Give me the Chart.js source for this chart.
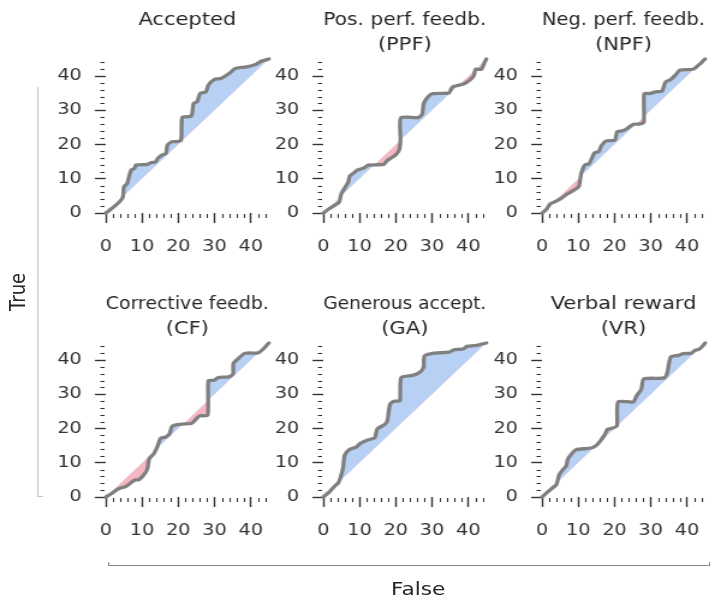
<!DOCTYPE html>
<html>
<head>
<meta charset="utf-8">
<script src="https://cdn.jsdelivr.net/npm/chart.js@4/dist/chart.umd.min.js"></script>
<style>
body { margin: 0; background: #fff; font-family: 'DejaVu Sans', sans-serif; color: #262626; overflow: hidden; }
/* the figure is drawn 600 wide and stretched to the 721 px window */
#wrap { position: relative; width: 600px; height: 600px; transform: scaleX(1.20167); transform-origin: 0 0; }
#wrap canvas { position: absolute; }
#yline { position: absolute; left: 31px; top: 87px; width: 1px; height: 410px; background: #c8c8c8; }
#ytick { position: absolute; left: 31px; top: 496px; width: 5px; height: 1px; background: #c8c8c8; }
#xline { position: absolute; left: 90px; top: 565px; width: 501px; height: 1px; background: #8a8a8a; }
#xtickL { position: absolute; left: 90px; top: 562px; width: 1px; height: 3px; background: #8a8a8a; }
#xtickR { position: absolute; left: 590px; top: 562px; width: 1px; height: 3px; background: #8a8a8a; }
#ylabel { position: absolute; left: 13.5px; top: 292px; transform: translate(-50%, -50%) rotate(-90deg); font-size: 18px; white-space: nowrap; }
#xlabel { position: absolute; left: 348px; top: 588px; transform: translate(-50%, -50%); font-size: 18px; }
</style>
</head>
<body>
<div id="wrap">
  <div id="yline"></div><div id="ytick"></div>
  <div id="xline"></div><div id="xtickL"></div><div id="xtickR"></div>
  <div id="ylabel">True</div>
  <div id="xlabel">False</div>
</div>
<script>
// panel titles
var titles = [
    ['Accepted', ''],
    ['Pos. perf. feedb.', '(PPF)'],
    ['Neg. perf. feedb.', '(NPF)'],
    ['Corrective feedb.', '(CF)'],
    ['Generous accept.', '(GA)'],
    ['Verbal reward', '(VR)']
];

var majorTicks = [0, 10, 20, 30, 40];
var minorTicks = [2, 4, 6, 8, 12, 14, 16, 18, 22, 24, 26, 28, 32, 34, 36, 38, 42, 44];
var diagonal = [0, 45];

var acceptedX = [0, 2, 4, 4.75, 5.0, 5.9, 6.5, 7.0, 7.9, 8.3, 11.5, 12.4, 13.7, 14.3, 15.5, 16.6, 17.0, 18.2, 20.7, 21.1, 23.6, 24.2, 25.2, 26.0, 27.6, 28.3, 29.9, 31.7, 34.3, 35.7, 38.8, 41.5, 42.6, 45];
var acceptedY = [0, 1.6, 3.5, 4.7, 7.6, 8.6, 11, 12.5, 13, 14, 14.2, 14.7, 14.9, 15.9, 16.9, 17.4, 19.8, 20.8, 21.1, 27.9, 28.3, 32.0, 32.5, 34.9, 35.4, 37.4, 39, 39.3, 41, 42.2, 42.7, 43.5, 44.2, 45];

var ppfX = [0, 1.7, 3.5, 4.4, 5.0, 6.1, 6.9, 7.3, 8.4, 9.3, 11.3, 12.4, 15.1, 16.7, 17.7, 18.9, 19.9, 20.9, 21.3, 21.4, 26.2, 27.3, 27.7, 28.9, 30.2, 34.7, 35.6, 38.7, 40.4, 41.6, 42.0, 43.6, 44.6, 45];
var ppfY = [0, 1.3, 2.5, 3.2, 5.7, 7.6, 9.1, 10.8, 11.7, 12.5, 13.2, 14, 14.1, 14.2, 15.4, 16.2, 16.9, 18.3, 21.3, 27.8, 27.9, 28.9, 32.0, 34, 34.9, 35.1, 36.8, 37.7, 38.8, 40.3, 42, 42, 44.2, 45];

var npfX = [0, 1.2, 2.3, 3.8, 5.6, 6.9, 8.7, 10.2, 10.8, 11.8, 13.0, 14.5, 15.7, 16.3, 17.6, 20.1, 20.7, 22.1, 23.0, 25.2, 27.0, 28.1, 28.2, 29.7, 31.4, 33.1, 34.1, 35.5, 36.8, 38.1, 41.7, 43.5, 44.5, 45];
var npfY = [0, 1, 2.7, 3.4, 4.5, 5.5, 6.6, 7.8, 11.5, 14, 14.4, 17.6, 18, 19.5, 21, 21.3, 23.7, 24, 24.4, 25.9, 26, 26.6, 34.9, 34.9, 35.4, 35.6, 38.3, 39, 40.3, 41.8, 42, 43.5, 44.5, 45];

var cfX = [0, 1.6, 3, 4.3, 5.2, 6.4, 7.9, 9.2, 10.6, 11.5, 12, 13.3, 14.2, 15.1, 16.6, 17.6, 18.2, 19.1, 21.3, 23.6, 24.6, 25.8, 28.1, 28.3, 29.9, 31, 33.9, 35.1, 35.2, 36.6, 38.4, 42.0, 43.3, 44.7, 45];
var cfY = [0, 1, 2.1, 2.7, 2.9, 3.7, 4.9, 5.1, 6.6, 8.3, 11.2, 12.7, 14.6, 17.1, 17.6, 18.5, 20.5, 21, 21.3, 21.5, 22.4, 23.7, 23.9, 34, 34.1, 34.9, 35.1, 35.9, 39, 40.5, 42, 42.1, 43.1, 44.7, 45];

var gaX = [0, 1.7, 3.0, 4.2, 4.8, 5.5, 5.9, 7.2, 9.1, 10.1, 12.4, 14.2, 14.9, 17.0, 17.7, 18.4, 19.5, 21.1, 21.5, 24.9, 26.8, 27.7, 27.9, 30.2, 34.7, 36.0, 38.7, 39.6, 42.7, 45];
var gaY = [0, 1.5, 3.0, 4.2, 5.9, 8.8, 12.2, 13.9, 14.6, 15.6, 16.7, 17.3, 19.9, 21.2, 22.4, 27.1, 28.0, 28.1, 34.9, 35.6, 36.6, 38, 41.2, 42, 42.3, 43, 43.3, 44, 44.4, 45];

var vrX = [0, 1.5, 3.3, 4.0, 4.7, 5.6, 6.7, 7.1, 8.1, 9.4, 12.7, 14.1, 15.4, 17.2, 18.1, 19.4, 20.7, 21.0, 25.2, 26.1, 27.4, 28.1, 33.7, 34.6, 35.5, 37.7, 39.0, 41.2, 42.1, 43.4, 44.4, 45];
var vrY = [0, 1.4, 3.0, 3.6, 6.4, 7.8, 9.1, 11, 12.5, 13.8, 14.2, 14.5, 15.5, 18, 19.8, 20.1, 20.8, 27.8, 27.8, 29.6, 31.5, 34.5, 34.8, 36.5, 40.9, 41.4, 41.9, 42, 42.8, 43.2, 44.2, 45];

var curvesX = [acceptedX, ppfX, npfX, cfX, gaX, vrX];
var curvesY = [acceptedY, ppfY, npfY, cfY, gaY, vrY];

function toPoints(xs, ys) {
    return xs.map(function(x, i) { return { x: x, y: ys[i] }; });
}

var minorTickPlugin = {
    id: 'minorTicks',
    afterDraw: function(chart) {
        var ctx = chart.ctx;
        var sx = chart.scales.x, sy = chart.scales.y;
        ctx.save();
        ctx.strokeStyle = '#333';
        ctx.lineWidth = 1.1;
        minorTicks.forEach(function(v) {
            var px = Math.round(sx.getPixelForValue(v)) + 0.5;
            ctx.beginPath();
            ctx.moveTo(px, sx.top + 1);
            ctx.lineTo(px, sx.top + 5);
            ctx.stroke();
            var py = Math.round(sy.getPixelForValue(v)) + 0.5;
            ctx.beginPath();
            ctx.moveTo(sy.right - 4.5, py);
            ctx.lineTo(sy.right - 1, py);
            ctx.stroke();
        });
        ctx.restore();
    }
};

// canvas placement (before the horizontal stretch)
var colLeft = [38, 219.4, 401.3];
var rowTop = [0, 284];
var wrap = document.getElementById('wrap');

function axis(fitKey, fitSize, tickLen, pad) {
    return {
        type: 'linear',
        min: 0,
        max: 45,
        border: { display: false },
        grid: { drawOnChartArea: false, tickLength: tickLen, tickColor: '#333', tickWidth: 1.4 },
        ticks: {
            color: '#333',
            padding: pad,
            maxRotation: 0,
            autoSkip: false,
            font: { family: 'DejaVu Sans', size: 16 }
        },
        afterBuildTicks: function(scale) {
            scale.ticks = majorTicks.map(function(v) { return { value: v }; });
        },
        afterFit: function(scale) { scale[fitKey] = fitSize; }
    };
}

titles.forEach(function(title, i) {
    var canvas = document.createElement('canvas');
    canvas.width = 196;
    canvas.height = 253;
    canvas.style.left = colLeft[i % 3] + 'px';
    canvas.style.top = rowTop[Math.floor(i / 3)] + 'px';
    wrap.appendChild(canvas);

    new Chart(canvas, {
        type: 'line',
        data: {
            datasets: [{
                data: toPoints(curvesX[i], curvesY[i]),
                borderColor: '#808080',
                borderWidth: 3.3,
                borderJoinStyle: 'round',
                borderCapStyle: 'round',
                pointRadius: 0,
                tension: 0.2,
                clip: false,
                fill: { target: 1, above: '#b7d0f4', below: '#f5b8c2' }
            }, {
                data: toPoints(diagonal, diagonal),
                borderWidth: 0,
                borderColor: 'rgba(0,0,0,0)',
                pointRadius: 0,
                fill: false
            }]
        },
        options: {
            responsive: false,
            animation: false,
            devicePixelRatio: 1,
            layout: { padding: { right: 7 } },
            plugins: {
                legend: { display: false },
                tooltip: { enabled: false },
                title: {
                    display: true,
                    text: title,
                    fullSize: false,
                    color: '#262626',
                    font: { family: 'DejaVu Sans', size: 17.5, weight: 'normal', lineHeight: '25px' },
                    padding: { top: 8, bottom: 1 }
                }
            },
            scales: {
                x: axis('height', 40, 10, 14),
                y: axis('width', 50, 9, 11)
            }
        },
        plugins: [minorTickPlugin]
    });
});
</script>
</body>
</html>
